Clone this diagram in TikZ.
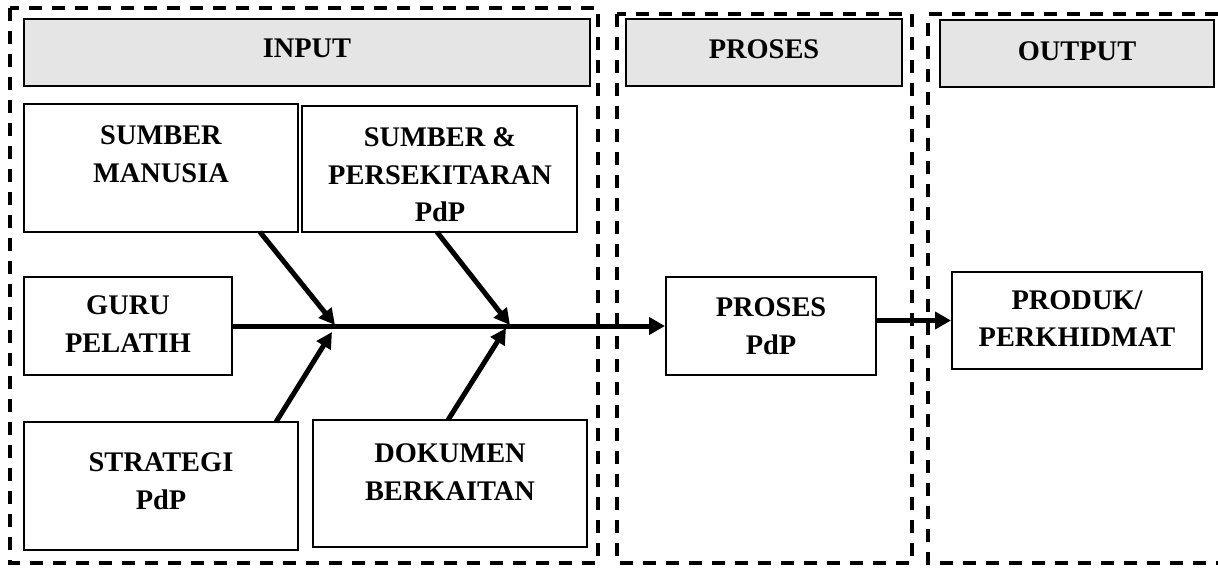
\documentclass[tikz,border=0pt]{standalone}
\usepackage{fontspec}
\setmainfont{Liberation Serif}
\usetikzlibrary{arrows.meta}
\begin{document}
\begin{tikzpicture}[x=0.5pt,y=-0.5pt,
  zone/.style={line width=1.6pt, dash pattern=on 6.5pt off 5pt},
  box/.style n args={2}{draw, line width=1pt, inner sep=0pt,
    minimum width=#1*0.5pt, minimum height=#2*0.5pt},
  head/.style n args={2}{box={#1}{#2}, fill=black!10},
  txt/.style={font=\fontsize{14.2pt}{18.8pt}\selectfont\bfseries,
    align=center, anchor=north, inner sep=0pt},
  flow/.style={line width=2.5pt, -{Triangle[length=8pt,width=8.5pt]}},
  bone/.style={line width=2.5pt, -{Triangle[length=8pt,width=8pt]}}]
\useasboundingbox (0,0) rectangle (1218,568);

% dashed zones
\draw[zone] (10,8) rectangle (598,563);
\draw[zone] (617,14) rectangle (912,563);
\draw[zone] (1218,14) -- (928,14) -- (928,563) -- (1218,563);

% column headers
\node[head={566}{67}] (hin)  at (307,52.5) {};
\node[head={276}{67}] (hpr)  at (764,52.5) {};
\node[head={274}{67}] (hout) at (1077,53.5) {};
\node[txt] (hinT)  at (307,39) {INPUT};
\node[txt] (hprT)  at (764,39) {PROSES};
\node[txt] (houtT) at (1077,41) {OUTPUT};

% input boxes
\node[box={274}{128}] (sm)  at (161,168) {};
\node[box={275}{126}] (spr) at (439.5,169) {};
\node[box={208}{98}]  (gp)  at (128,326) {};
\node[box={274}{128}] (str) at (161,486) {};
\node[box={274}{127}] (dok) at (450,483.5) {};
\node[txt] (smT)  at (161,125.5) {SUMBER\\MANUSIA};
\node[txt] (sprT) at (440,127.5) {SUMBER \&\\PERSEKITARAN\\PdP};
\node[txt] (gpT)  at (128,295.5) {GURU\\PELATIH};
\node[txt] (strT) at (161,452.5) {STRATEGI\\PdP};
\node[txt] (dokT) at (450,443.5) {DOKUMEN\\BERKAITAN};

% process and output boxes
\node[box={210}{98}] (pp) at (771,326) {};
\node[box={250}{97}] (pk) at (1077,320.5) {};
\node[txt] (ppT) at (771,297.5) {PROSES\\PdP};
\node[txt] (pkT) at (1077,290) {PRODUK/\\PERKHIDMAT};

% fishbone
\coordinate (a1) at (260,232);
\coordinate (a2) at (437,232);
\coordinate (a3) at (276,422);
\coordinate (a4) at (448,420);
\coordinate (j1) at (335,325);
\coordinate (j2) at (510,325);
\coordinate (j3) at (332,332);
\coordinate (j4) at (506,328);
\draw[flow] (gp.east) -- (pp.west);
\draw[bone] (a1) -- (j1);
\draw[bone] (a2) -- (j2);
\draw[bone] (a3) -- (j3);
\draw[bone] (a4) -- (j4);
\draw[flow] (pp.east |- pk.west) -- (pk.west);
\end{tikzpicture}
\end{document}
